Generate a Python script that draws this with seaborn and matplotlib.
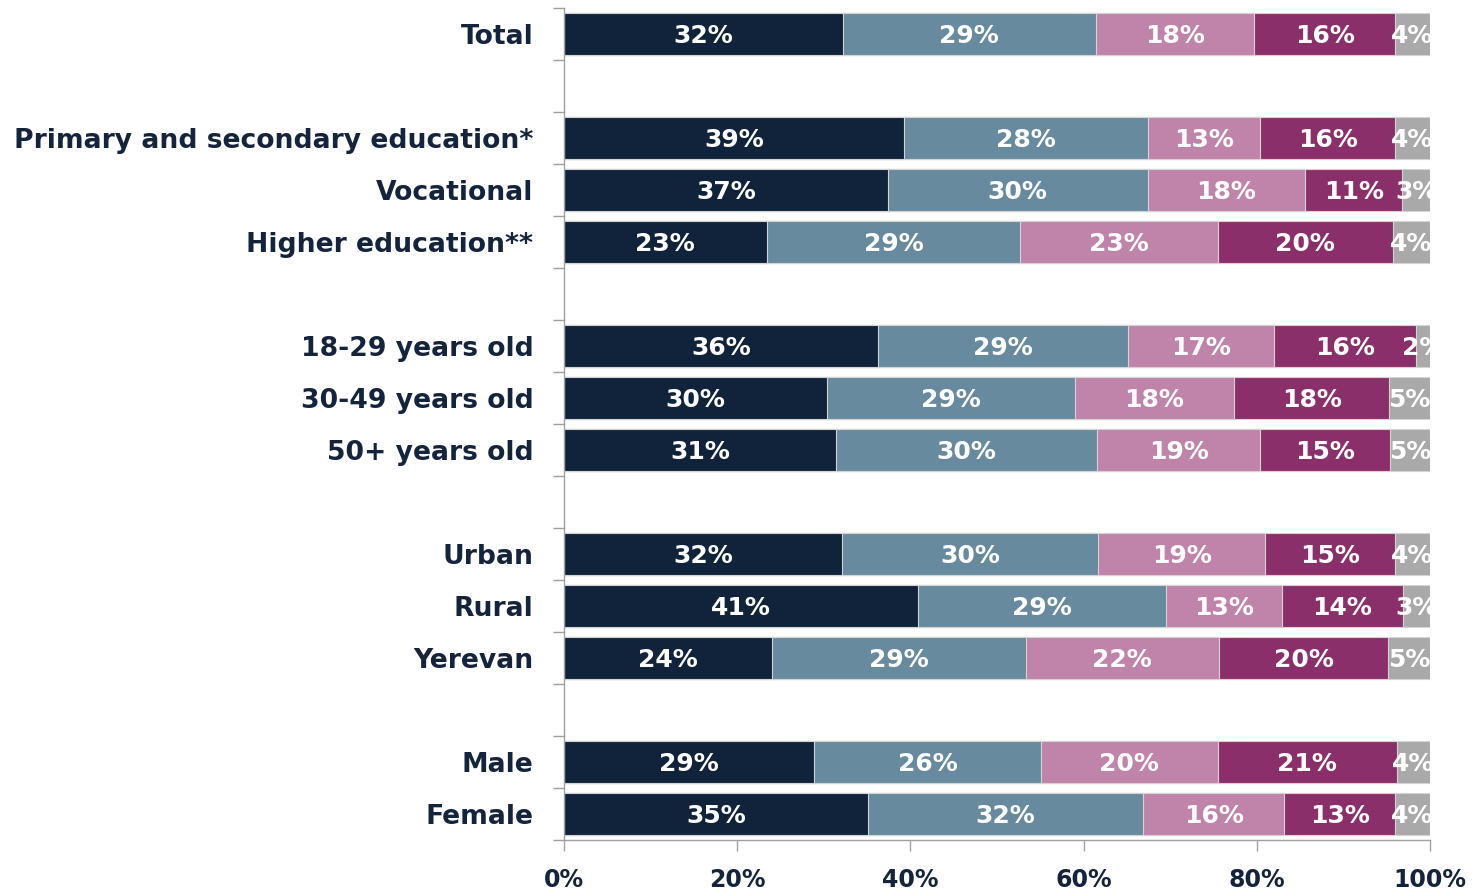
import pandas as pd
import matplotlib.pyplot as plt
import seaborn as sns
from matplotlib.ticker import FixedLocator

# categories (gap rows keep the groups apart)
order = ["Total", "gap1",
         "Primary and secondary education*", "Vocational", "Higher education**", "gap2",
         "18-29 years old", "30-49 years old", "50+ years old", "gap3",
         "Urban", "Rural", "Yerevan", "gap4",
         "Male", "Female"]
groups = [r for r in order if not r.startswith("gap")]

# shares per answer category (%)
seg1 = [32.2, 39.3, 37.4, 23.4, 36.3, 30.4, 31.4, 32.1, 40.9, 24.0, 28.9, 35.1]
seg2 = [29.2, 28.1, 30.0, 29.3, 28.8, 28.6, 30.2, 29.6, 28.6, 29.3, 26.2, 31.8]
seg3 = [18.3, 13.0, 18.2, 22.8, 16.9, 18.4, 18.8, 19.3, 13.4, 22.3, 20.4, 16.3]
seg4 = [16.3, 15.6, 11.2, 20.2, 16.4, 17.9, 15.0, 15.0, 14.0, 19.6, 20.7, 12.8]
seg5 = [4.0, 4.0, 3.2, 4.3, 1.6, 4.7, 4.6, 4.0, 3.1, 4.8, 3.8, 4.0]

colors = ["#10233b", "#678a9f", "#c084aa", "#8b2f6b", "#a9a9a9"]
navy = "#14243d"

df = pd.DataFrame({"row": groups, "s1": seg1, "s2": seg2, "s3": seg3,
                   "s4": seg4, "s5": seg5})
segs = ["s1", "s2", "s3", "s4", "s5"]
cum = df[segs].cumsum(axis=1)

sns.set_style("white")
plt.rcParams['font.family'] = ['DejaVu Sans']

fig = plt.figure(figsize=(14.74, 8.92), dpi=100)
ax = fig.add_axes([0.3826, 0.0583, 0.5875, 0.9327])

# draw cumulative bars from the longest down so each segment shows
for i in range(4, -1, -1):
    tmp = pd.DataFrame({"row": df["row"], "val": cum[segs[i]]})
    sns.barplot(data=tmp, x="val", y="row", order=order, orient="h",
                color=colors[i], saturation=1, width=0.79,
                edgecolor="#d4d4d4", linewidth=0.8, ax=ax)

# value labels
pos = {r: k for k, r in enumerate(order)}
for _, r in df.iterrows():
    start = 0
    for s in segs:
        v = r[s]
        ax.text(start + v / 2, pos[r["row"]] + 0.03, f"{v:.0f}%", ha="center",
                va="center", color="white", fontsize=18, fontweight="bold",
                clip_on=True)
        start += v

ax.set_xlim(0, 100)
ax.set_ylim(len(order) - 0.5, -0.5)
ax.set_xlabel("")
ax.set_ylabel("")

centers = [pos[g] for g in groups]
ax.yaxis.set_major_locator(FixedLocator(centers))
ax.set_yticklabels(groups, fontsize=19.2, fontweight="bold", color=navy)
ax.yaxis.set_minor_locator(FixedLocator([k - 0.5 for k in range(len(order) + 1)]))
ax.tick_params(axis="y", which="major", length=0, pad=22)
ax.tick_params(axis="y", which="minor", length=8, width=1, color="#a0a0a0",
               left=True)

ax.set_xticks([0, 20, 40, 60, 80, 100])
ax.set_xticklabels(["0%", "20%", "40%", "60%", "80%", "100%"], fontsize=17,
                   fontweight="bold", color=navy)
ax.tick_params(axis="x", length=8, width=1, color="#a0a0a0", bottom=True,
               pad=12)

for side in ["top", "right"]:
    ax.spines[side].set_visible(False)
for side in ["left", "bottom"]:
    ax.spines[side].set_color("#a0a0a0")
    ax.spines[side].set_linewidth(1)

fig.savefig("out.png", dpi=100)
